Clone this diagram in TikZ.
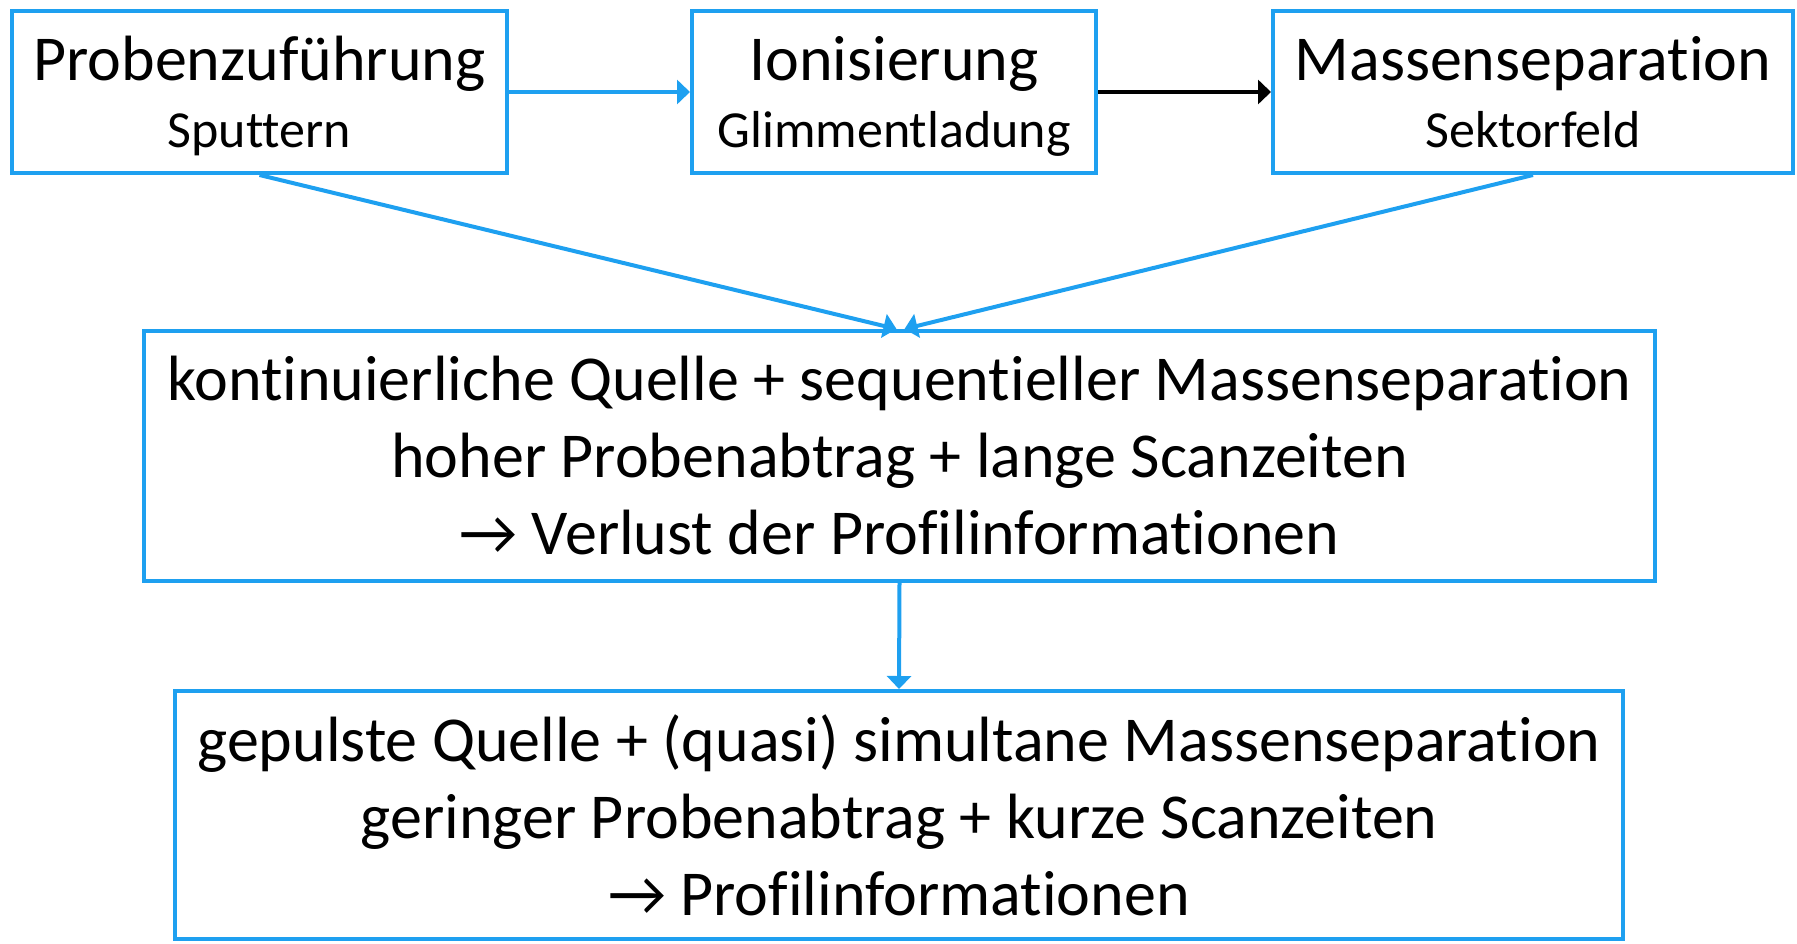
\documentclass[tikz,border=0pt]{standalone}
\usepackage{fontspec}
\setmainfont{Carlito}[Ligatures={NoCommon,NoContextual}]
\usetikzlibrary{arrows.meta}
\definecolor{sky}{RGB}{30,160,240}
\newcommand{\ttl}[2]{{\fontsize{64}{70}\selectfont\strut\rule{0pt}{64pt}#1}\\[-4pt]{\fontsize{52}{70}\selectfont\strut #2}}
\begin{document}
\begin{tikzpicture}[x=1pt,y=-1pt,
  box/.style={draw=sky, line width=4pt, inner sep=0pt, align=center},
  conn/.style={line width=4pt, draw=sky, -{Triangle[length=13pt,width=24pt]}},
  body/.style={font=\fontsize{64}{77}\selectfont}]
\useasboundingbox (0,0) rectangle (1797,943);
\node[box, minimum width=495, minimum height=162] (p) at (259.5,92)
  {\ttl{Probenzuführung}{Sputtern}};
\node[box, minimum width=404, minimum height=162] (i) at (894,92)
  {\ttl{Ionisierung}{Glimmentladung}};
\node[box, minimum width=520, minimum height=162] (m) at (1533,92)
  {\ttl{Massenseparation}{Sektorfeld}};
\node[box, body, minimum width=1511, minimum height=250] (k) at (899.5,456)
  {kontinuierliche Quelle + sequentieller Massenseparation\\hoher Probenabtrag + lange Scanzeiten\\→ Verlust der Profilinformationen};
\node[box, body, minimum width=1448, minimum height=248] (g) at (899,815)
  {gepulste Quelle + (quasi) simultane Massenseparation\\geringer Probenabtrag + kurze Scanzeiten\\→ Profilinformationen};
\draw[conn] (p.east) -- (i.west);
\draw[conn, draw=black] (i.east) -- (m.west);
\draw[conn] (p.south) -- ([xshift=-3pt]k.north);
\draw[conn] (m.south) -- ([xshift=5pt]k.north);
\draw[conn] (k.south) -- (g.north);
\end{tikzpicture}
\end{document}
